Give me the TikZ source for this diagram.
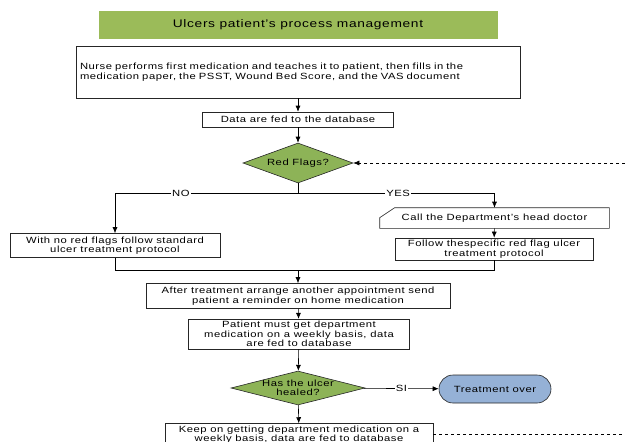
\documentclass[tikz,border=0pt]{standalone}
\usepackage{fontspec}
\setmainfont{Liberation Sans}
\newfontfamily\flowfont[FakeStretch=1.25,LetterSpace=6]{Liberation Sans}
\usetikzlibrary{shapes,shapes.misc,arrows.meta}

\definecolor{titlegreen}{HTML}{9BBB59}
\definecolor{flaggreen}{HTML}{8DB357}
\definecolor{overblue}{HTML}{95B1D6}
\definecolor{linegray}{HTML}{262626}

\begin{document}
\begin{tikzpicture}[x=1pt, y=-1pt, ->, >={Latex[length=6pt,width=5pt]},
      line width=0.6pt,
      every node/.append style={font=\flowfont\fontsize{9}{9.5}\selectfont,inner sep=2pt},
      box/.style={rectangle,draw=linegray,fill=white,align=center},
      decision/.style={diamond,draw=linegray,fill=flaggreen,inner sep=0pt},
      mark label/.style={fill=white,inner sep=1pt}]
    \tikzstyle{headbar} = [rectangle,fill=titlegreen,minimum width=399pt,minimum height=28pt,
      font=\flowfont\fontsize{11}{12}\selectfont]
    \useasboundingbox (0,0) rectangle (625,442);
    \clip (0,0) rectangle (625,442);
    \node (title) [headbar] at (298,25) {Ulcers patient’s process management};
    \node (nurse) [box,align=left,text width=436pt,minimum width=444pt,minimum height=52pt] at (298,72)
      {Nurse performs first medication and teaches it to patient, then fills in the\\
       medication paper, the PSST, Wound Bed Score, and the VAS document};
    \node (db) [box,minimum width=191pt,minimum height=15pt] at (298,119.5) {Data are fed to the database};
    \node (redflags) [decision,minimum width=110pt,minimum height=40pt,
      label={center:Red Flags?}] at (298,163) {};
    \coordinate (split) at (298,193);
    \node (noflag) [box,minimum width=210pt,minimum height=24pt] at (115,245.5)
      {With no red flags follow standard\\ulcer treatment protocol};
    \node (call) [rectangle,minimum width=229pt,minimum height=20pt] at (494.5,218)
      {Call the Department’s head doctor};
    \node (follow) [box,minimum width=198pt,minimum height=22pt] at (494,249)
      {Follow thespecific red flag ulcer\\treatment protocol};
    \coordinate (merge) at (298,270);
    \node (after) [box,minimum width=304pt,minimum height=25pt] at (298,296)
      {After treatment arrange another appointment send\\patient a reminder on home medication};
    \node (patient) [box,minimum width=221pt,minimum height=29pt] at (299,334)
      {Patient must get department\\medication on a weekly basis, data\\are fed to database};
    \node (healed) [decision,minimum width=134pt,minimum height=34pt,
      label={[align=center]center:Has the ulcer\\healed?}] at (298,388) {};
    \node (over) [rectangle,rounded corners=14pt,draw=linegray,fill=overblue,
      minimum width=112pt,minimum height=28pt] at (495,389) {Treatment over};
    \node (keep) [box,minimum width=268pt,minimum height=21pt] at (299,434.5)
      {Keep on getting department medication on a\\weekly basis, data are fed to database};
    \coordinate (loopin) at (625,163);
    \coordinate (loopout) at (625,434.5);

    % cut corner box
    \draw[-,draw=linegray] (call.south west) -- ([yshift=-10pt]call.north west)
      -- ([xshift=15pt]call.north west) -- (call.north east) -- (call.south east) -- cycle;

    \draw (nurse) -- (db);
    \draw (db) -- (redflags);
    \draw[-] (redflags) -- (split);
    \draw (split) -| node[mark label,pos=0.32] {NO} (noflag.north);
    \draw (split) -| node[mark label,pos=0.255] {YES} (call.north);
    \draw (call) -- (follow);
    \draw[-] (noflag.south) |- (merge);
    \draw[-] (follow.south) |- (merge);
    \draw (merge) -- (after);
    \draw (after) -- (patient);
    \draw (patient) -- (healed);
    \draw (healed) -- node[mark label] {SI} (over);
    \draw (healed) -- (keep);
    \draw[dashed] (loopin) -- (redflags.east);
    \draw[dashed,-] (keep.east) -- (loopout);
\end{tikzpicture}
\end{document}
